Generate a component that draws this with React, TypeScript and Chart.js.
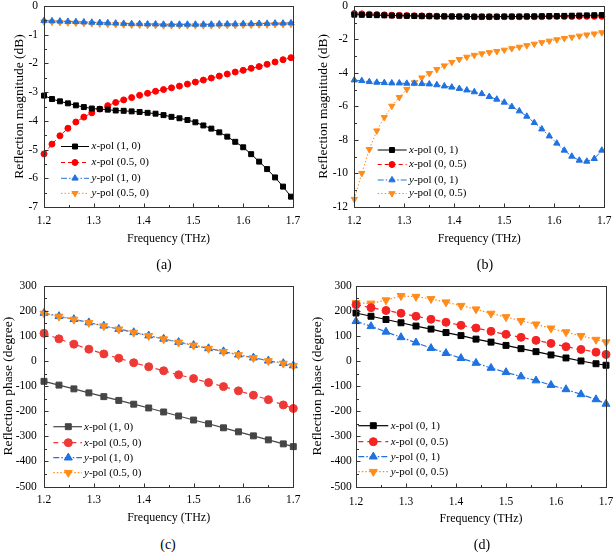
import React, { useEffect, useRef } from "react";
import { Chart, registerables } from "chart.js";
Chart.register(...registerables);

const FONT = "'Liberation Serif', 'Times New Roman', serif";
const TICK_SIZE = 11.5;
const XT_SIZE = 12;
const YT_SIZE = 13.5;
const LEG_SIZE = 11;

Chart.defaults.font.family = FONT;
Chart.defaults.font.weight = "normal" as any;
Chart.defaults.color = "#000000";

// ---------- data ----------
const freqA = [1.2, 1.216, 1.232, 1.248, 1.264, 1.28, 1.296, 1.312, 1.328, 1.344, 1.36, 1.376, 1.392, 1.408, 1.424, 1.44, 1.456, 1.472, 1.488, 1.504, 1.52, 1.536, 1.552, 1.568, 1.584, 1.6, 1.616, 1.632, 1.648, 1.664, 1.68, 1.696];
const magA_x10 = [-3.12, -3.24, -3.32, -3.39, -3.46, -3.52, -3.57, -3.59, -3.61, -3.64, -3.65, -3.67, -3.69, -3.72, -3.75, -3.8, -3.86, -3.91, -3.97, -4.05, -4.16, -4.27, -4.4, -4.55, -4.73, -4.92, -5.16, -5.42, -5.68, -5.97, -6.29, -6.64];
const magA_x05 = [-5.15, -4.81, -4.52, -4.26, -4.04, -3.87, -3.72, -3.59, -3.47, -3.36, -3.27, -3.19, -3.11, -3.04, -2.97, -2.91, -2.85, -2.79, -2.72, -2.65, -2.58, -2.51, -2.44, -2.37, -2.3, -2.24, -2.17, -2.11, -2.03, -1.95, -1.87, -1.8];
const magA_y10 = [-0.51, -0.52, -0.53, -0.54, -0.55, -0.56, -0.57, -0.58, -0.59, -0.6, -0.61, -0.62, -0.62, -0.63, -0.63, -0.64, -0.64, -0.64, -0.64, -0.64, -0.64, -0.64, -0.63, -0.63, -0.63, -0.62, -0.62, -0.61, -0.61, -0.6, -0.6, -0.59];
const magA_y05 = [-0.55, -0.56, -0.57, -0.58, -0.59, -0.6, -0.61, -0.62, -0.63, -0.64, -0.65, -0.66, -0.66, -0.67, -0.67, -0.68, -0.68, -0.68, -0.68, -0.68, -0.68, -0.68, -0.67, -0.67, -0.67, -0.66, -0.66, -0.65, -0.65, -0.64, -0.64, -0.63];

const freqB = [1.2, 1.215, 1.23, 1.245, 1.26, 1.275, 1.29, 1.305, 1.32, 1.335, 1.35, 1.365, 1.38, 1.395, 1.41, 1.425, 1.44, 1.455, 1.47, 1.485, 1.5, 1.515, 1.53, 1.545, 1.56, 1.575, 1.59, 1.605, 1.62, 1.635, 1.65, 1.665, 1.68, 1.695];
const magB_x1 = [-0.52, -0.53, -0.54, -0.55, -0.56, -0.57, -0.58, -0.59, -0.6, -0.61, -0.61, -0.62, -0.62, -0.63, -0.63, -0.63, -0.64, -0.64, -0.64, -0.64, -0.63, -0.63, -0.63, -0.62, -0.62, -0.61, -0.6, -0.6, -0.59, -0.58, -0.57, -0.56, -0.55, -0.54];
const magB_x05 = [-0.45, -0.47, -0.49, -0.51, -0.53, -0.55, -0.56, -0.57, -0.58, -0.59, -0.6, -0.61, -0.62, -0.62, -0.63, -0.63, -0.64, -0.64, -0.64, -0.64, -0.64, -0.64, -0.64, -0.64, -0.64, -0.64, -0.63, -0.63, -0.63, -0.63, -0.62, -0.62, -0.62, -0.62];
const magB_y1 = [-4.43, -4.47, -4.53, -4.57, -4.59, -4.61, -4.61, -4.63, -4.63, -4.65, -4.67, -4.72, -4.79, -4.86, -4.94, -5.03, -5.14, -5.25, -5.42, -5.58, -5.76, -6.02, -6.28, -6.6, -6.98, -7.36, -7.78, -8.21, -8.63, -8.99, -9.23, -9.29, -9.13, -8.63];
const magB_y05 = [-11.55, -10.0, -8.57, -7.46, -6.66, -5.98, -5.46, -4.98, -4.58, -4.29, -4.03, -3.79, -3.57, -3.36, -3.19, -3.05, -2.94, -2.85, -2.78, -2.71, -2.63, -2.54, -2.45, -2.36, -2.27, -2.18, -2.09, -2.01, -1.93, -1.86, -1.79, -1.72, -1.66, -1.59];

const freqCD = [1.2, 1.23, 1.26, 1.29, 1.32, 1.35, 1.38, 1.41, 1.44, 1.47, 1.5, 1.53, 1.56, 1.59, 1.62, 1.65, 1.68, 1.7];
const phC_x10 = [-81, -96, -111, -127, -142, -157, -172, -187, -203, -219, -235, -250, -266, -282, -298, -314, -330, -341];
const phC_x05 = [110, 88, 67, 47, 28, 11, -7, -23, -39, -55, -70, -86, -102, -119, -136, -154, -175, -189];
const phC_y10 = [191, 178, 166, 153, 140, 127, 114, 101, 88, 75, 63, 50, 38, 25, 13, 1, -9, -18];
const phC_y05 = [189, 177, 165, 152, 139, 126, 113, 100, 87, 74, 62, 49, 37, 24, 12, 0, -10, -19];

const phD_x1 = [191, 178, 165, 152, 139, 127, 113, 101, 87, 75, 62, 49, 37, 24, 12, 0, -11, -17];
const phD_x05 = [224, 212, 201, 190, 178, 166, 154, 142, 131, 118, 106, 94, 82, 70, 57, 46, 35, 26];
const phD_y1 = [158, 138, 116, 94, 73, 51, 31, 11, -8, -28, -45, -62, -78, -96, -113, -133, -153, -171];
const phD_y05 = [231, 229, 242, 259, 256, 247, 234, 220, 206, 189, 175, 160, 146, 130, 115, 100, 85, 75];

const xTicks = [1.2, 1.3, 1.4, 1.5, 1.6, 1.7];

// ---------- styles ----------
type Shape = "square" | "circle" | "up" | "down";
interface Series {
  pol: string;
  rest: string;
  data: number[];
  color: string;
  shape: Shape;
  r: number;
  dash: number[];
  order: number;
  width: number;
}
interface PanelCfg {
  freq: number[];
  series: Series[];
  yMin: number; yMax: number; yStep: number; yMinor: number;
  yTitle: string;
  cx: number; cy: number; cw: number; ch: number;
  L: number; T: number; R: number; B: number;
  yTickRight: number; yTitleX: number; xTickY: number; xTitleY: number;
  legX0: number; legX1: number; legXM: number; legXT: number; legRows: number[];
  tag: string; tagX: number; tagY: number;
}

const SOLID: number[] = [];
const DASH = [4, 3];
const DASHC = [5, 4];
const DASHDOT = [6, 2, 1.5, 2];
const DOT = [1.5, 2];

const panels: PanelCfg[] = [
  {
    freq: freqA,
    series: [
      { pol: "x", rest: "-pol (1, 0)", data: magA_x10, color: "#000000", shape: "square", r: 3.5, dash: SOLID, order: 0, width: 1 },
      { pol: "x", rest: "-pol (0.5, 0)", data: magA_x05, color: "#ff0000", shape: "circle", r: 3, dash: DASH, order: 1, width: 1 },
      { pol: "y", rest: "-pol (1, 0)", data: magA_y10, color: "#1f72e0", shape: "up", r: 3.6, dash: DASHDOT, order: 2, width: 1 },
      { pol: "y", rest: "-pol (0.5, 0)", data: magA_y05, color: "#ff8c1a", shape: "down", r: 3.6, dash: DOT, order: 3, width: 1 },
    ],
    yMin: -7, yMax: 0, yStep: 1, yMinor: 0.5,
    yTitle: "Reflection magnitude (dB)",
    cx: 0, cy: -10, cw: 340, ch: 266,
    L: 44, T: 6, R: 293, B: 207,
    yTickRight: 38, yTitleX: 19, xTickY: 220.7, xTitleY: 239.3,
    legX0: 61, legX1: 89, legXM: 75, legXT: 91.5, legRows: [146.5, 162.5, 178.3, 193.3],
    tag: "(a)", tagX: 164, tagY: 265,
  },
  {
    freq: freqB,
    series: [
      { pol: "x", rest: "-pol (0, 1)", data: magB_x1, color: "#000000", shape: "square", r: 3.5, dash: SOLID, order: 0, width: 1 },
      { pol: "x", rest: "-pol (0, 0.5)", data: magB_x05, color: "#ff0000", shape: "circle", r: 3, dash: DASH, order: 1, width: 1 },
      { pol: "y", rest: "-pol (0, 1)", data: magB_y1, color: "#1f72e0", shape: "up", r: 3.6, dash: DASHDOT, order: 2, width: 1 },
      { pol: "y", rest: "-pol (0, 0.5)", data: magB_y05, color: "#ff8c1a", shape: "down", r: 3.6, dash: DOT, order: 3, width: 1 },
    ],
    yMin: -12, yMax: 0, yStep: 2, yMinor: 1,
    yTitle: "Reflection magnitude (dB)",
    cx: 307, cy: -10, cw: 340, ch: 266,
    L: 354.3, T: 6, R: 604.3, B: 206.7,
    yTickRight: 348, yTitleX: 323.3, xTickY: 220.7, xTitleY: 239.3,
    legX0: 377.7, legX1: 406.7, legXM: 392, legXT: 409, legRows: [150, 164.5, 180, 193.5],
    tag: "(b)", tagX: 485, tagY: 265,
  },
  {
    freq: freqCD,
    series: [
      { pol: "x", rest: "-pol (1, 0)", data: phC_x10, color: "#454545", shape: "square", r: 4.2, dash: SOLID, order: 1, width: 1.2 },
      { pol: "x", rest: "-pol (0.5, 0)", data: phC_x05, color: "#ee3a36", shape: "circle", r: 4, dash: DASHC, order: 2, width: 1.2 },
      { pol: "y", rest: "-pol (1, 0)", data: phC_y10, color: "#1f72e0", shape: "up", r: 4.6, dash: DASHDOT, order: 3, width: 1.2 },
      { pol: "y", rest: "-pol (0.5, 0)", data: phC_y05, color: "#ff8c1a", shape: "down", r: 4.6, dash: DOT, order: 0, width: 1.2 },
    ],
    yMin: -500, yMax: 300, yStep: 100, yMinor: 50,
    yTitle: "Reflection phase (degree)",
    cx: 0, cy: 270, cw: 340, ch: 266,
    L: 44, T: 285.6, R: 293.3, B: 486.6,
    yTickRight: 36.8, yTitleX: 8.4, xTickY: 500.3, xTitleY: 518.3,
    legX0: 53.3, legX1: 82, legXM: 68.3, legXT: 84, legRows: [426.7, 442.7, 457.7, 472.7],
    tag: "(c)", tagX: 168, tagY: 545,
  },
  {
    freq: freqCD,
    series: [
      { pol: "x", rest: "-pol (0, 1)", data: phD_x1, color: "#000000", shape: "square", r: 4.2, dash: SOLID, order: 0, width: 1.2 },
      { pol: "x", rest: "-pol (0, 0.5)", data: phD_x05, color: "#f52424", shape: "circle", r: 4, dash: DASHC, order: 1, width: 1.2 },
      { pol: "y", rest: "-pol (0, 1)", data: phD_y1, color: "#1f72e0", shape: "up", r: 4.6, dash: DASHDOT, order: 2, width: 1.2 },
      { pol: "y", rest: "-pol (0, 0.5)", data: phD_y05, color: "#ff8c1a", shape: "down", r: 4.6, dash: DOT, order: 3, width: 1.2 },
    ],
    yMin: -500, yMax: 300, yStep: 100, yMinor: 50,
    yTitle: "Reflection phase (degree)",
    cx: 307, cy: 270, cw: 340, ch: 266,
    L: 356, T: 285.6, R: 606, B: 486.6,
    yTickRight: 351.7, yTitleX: 317.7, xTickY: 501.5, xTitleY: 519.3,
    legX0: 358.3, legX1: 388.3, legXM: 373.3, legXT: 390.7, legRows: [425.7, 441.7, 456.7, 471.7],
    tag: "(d)", tagX: 482, tagY: 545,
  },
];

function drawMarker(ctx: CanvasRenderingContext2D, shape: Shape, x: number, y: number, r: number, color: string) {
  ctx.save();
  ctx.fillStyle = color;
  ctx.strokeStyle = color;
  ctx.lineWidth = 1;
  ctx.setLineDash([]);
  ctx.beginPath();
  if (shape === "square") {
    const s = r * Math.SQRT1_2;
    ctx.rect(x - s, y - s, 2 * s, 2 * s);
  } else if (shape === "circle") {
    ctx.arc(x, y, r, 0, Math.PI * 2);
  } else {
    let rad = shape === "down" ? Math.PI : 0;
    ctx.moveTo(x + Math.sin(rad) * r, y - Math.cos(rad) * r);
    rad += (2 * Math.PI) / 3;
    ctx.lineTo(x + Math.sin(rad) * r, y - Math.cos(rad) * r);
    rad += (2 * Math.PI) / 3;
    ctx.lineTo(x + Math.sin(rad) * r, y - Math.cos(rad) * r);
    ctx.closePath();
  }
  ctx.fill();
  ctx.stroke();
  ctx.restore();
}

function Panel({ cfg }: { cfg: PanelCfg }) {
  const ref = useRef<HTMLCanvasElement>(null);
  useEffect(() => {
    const c = cfg;
    const lhTick = TICK_SIZE * 1.2;
    const lhX = XT_SIZE * 1.2;
    const lhY = YT_SIZE * 1.2;
    const xH = c.xTitleY + lhX / 2 - c.B;
    const yW = c.L - c.cx;
    const padTop = c.T - c.cy;
    const padRight = c.cx + c.cw - c.R;
    const padBottom = c.cy + c.ch - (c.B + xH);

    const decor = {
      id: "decor",
      afterDraw(chart: any) {
        const ctx: CanvasRenderingContext2D = chart.ctx;
        const a = chart.chartArea;
        const xs = chart.scales.x;
        const ys = chart.scales.y;
        const l = Math.round(a.left) + 0.5;
        const t = Math.round(a.top) + 0.5;
        const r = Math.round(a.right) + 0.5;
        const b = Math.round(a.bottom) + 0.5;
        ctx.save();
        ctx.strokeStyle = "#333333";
        ctx.lineWidth = 1;
        ctx.setLineDash([]);
        ctx.strokeRect(l, t, r - l, b - t);
        const nY = Math.round((c.yMax - c.yMin) / c.yMinor);
        const perY = Math.round(c.yStep / c.yMinor);
        ctx.beginPath();
        for (let k = 0; k <= nY; k++) {
          const v = c.yMin + k * c.yMinor;
          const py = Math.round(ys.getPixelForValue(v)) + 0.5;
          const len = k % perY === 0 ? 4 : 2.5;
          ctx.moveTo(l, py);
          ctx.lineTo(l + len, py);
        }
        for (let k = 0; k <= 10; k++) {
          const v = 1.2 + k * 0.05;
          const px = Math.round(xs.getPixelForValue(v)) + 0.5;
          const len = k % 2 === 0 ? 4 : 2.5;
          ctx.moveTo(px, b);
          ctx.lineTo(px, b - len);
        }
        ctx.stroke();
        c.series.forEach((s, i) => {
          const y = c.legRows[i] - c.cy;
          const x0 = c.legX0 - c.cx;
          const x1 = c.legX1 - c.cx;
          const xm = c.legXM - c.cx;
          const xt = c.legXT - c.cx;
          ctx.save();
          ctx.strokeStyle = s.color;
          ctx.lineWidth = s.width;
          ctx.setLineDash(s.dash);
          ctx.beginPath();
          ctx.moveTo(x0, y);
          ctx.lineTo(x1, y);
          ctx.stroke();
          ctx.restore();
          drawMarker(ctx, s.shape, xm, y, s.r, s.color);
          ctx.fillStyle = "#000000";
          ctx.textBaseline = "middle";
          ctx.textAlign = "left";
          ctx.font = `italic normal ${LEG_SIZE}px ${FONT}`;
          ctx.fillText(s.pol, xt, y);
          const w = ctx.measureText(s.pol).width;
          ctx.font = `normal normal ${LEG_SIZE}px ${FONT}`;
          ctx.fillText(s.rest, xt + w, y);
        });
        ctx.restore();
      },
    };

    const chart = new Chart(ref.current as HTMLCanvasElement, {
      type: "line",
      data: {
        datasets: c.series.map((s) => ({
          label: s.pol + s.rest,
          data: c.freq.map((f, i) => ({ x: f, y: s.data[i] })),
          borderColor: s.color,
          backgroundColor: s.color,
          pointBackgroundColor: s.color,
          pointBorderColor: s.color,
          pointBorderWidth: 1,
          pointRadius: s.r,
          pointStyle: s.shape === "square" ? "rect" : s.shape === "circle" ? "circle" : "triangle",
          pointRotation: s.shape === "down" ? 180 : 0,
          borderDash: s.dash,
          borderWidth: s.width,
          tension: 0,
          order: s.order,
          clip: false as any,
          fill: false,
        })),
      },
      options: {
        responsive: false,
        animation: false,
        events: [],
        layout: { padding: { left: 0, top: padTop, right: padRight, bottom: padBottom } },
        plugins: {
          legend: { display: false },
          tooltip: { enabled: false },
          title: { display: false },
        },
        scales: {
          x: {
            type: "linear",
            min: 1.2,
            max: 1.7,
            afterBuildTicks: (scale: any) => {
              scale.ticks = xTicks.map((v) => ({ value: v }));
            },
            ticks: {
              padding: c.xTickY - lhTick / 2 - c.B,
              color: "#000000",
              font: { family: FONT, size: TICK_SIZE, weight: "normal", style: "normal" },
              maxRotation: 0,
              autoSkip: false,
              callback: (v: any) => Number(v).toFixed(1),
            },
            grid: { display: false, drawTicks: false },
            border: { display: false },
            title: {
              display: true,
              text: "Frequency (THz)",
              color: "#000000",
              font: { family: FONT, size: XT_SIZE, weight: "normal", style: "normal" },
              padding: { top: 0, bottom: 0 },
            },
            afterFit: (scale: any) => {
              scale.height = xH;
            },
          },
          y: {
            type: "linear",
            min: c.yMin,
            max: c.yMax,
            ticks: {
              stepSize: c.yStep,
              padding: c.L - c.yTickRight,
              color: "#000000",
              font: { family: FONT, size: TICK_SIZE, weight: "normal", style: "normal" },
              autoSkip: false,
              callback: (v: any) => String(Math.round(Number(v))),
            },
            grid: { display: false, drawTicks: false },
            border: { display: false },
            title: {
              display: true,
              text: c.yTitle,
              color: "#000000",
              font: { family: FONT, size: YT_SIZE, weight: "normal", style: "normal" },
              padding: { top: c.yTitleX - c.cx - lhY / 2, bottom: 0 },
            },
            afterFit: (scale: any) => {
              scale.width = yW;
            },
          },
        },
      } as any,
      plugins: [decor],
    });
    return () => chart.destroy();
  }, [cfg]);
  return (
    <canvas
      ref={ref}
      width={cfg.cw}
      height={cfg.ch}
      style={{ position: "absolute", left: cfg.cx, top: cfg.cy, width: cfg.cw, height: cfg.ch }}
    />
  );
}

export default function App() {
  return (
    <div
      style={{
        position: "fixed",
        left: 0,
        top: 0,
        width: 614,
        height: 555,
        overflow: "hidden",
        background: "#ffffff",
      }}
    >
      {panels.map((p, i) => (
        <Panel key={i} cfg={p} />
      ))}
      {panels.map((p, i) => (
        <div
          key={"t" + i}
          style={{
            position: "absolute",
            left: p.tagX,
            top: p.tagY,
            transform: "translate(-50%, -50%)",
            fontFamily: FONT,
            fontSize: 14,
            color: "#000",
            lineHeight: "16px",
            whiteSpace: "nowrap",
          }}
        >
          {p.tag}
        </div>
      ))}
    </div>
  );
}
